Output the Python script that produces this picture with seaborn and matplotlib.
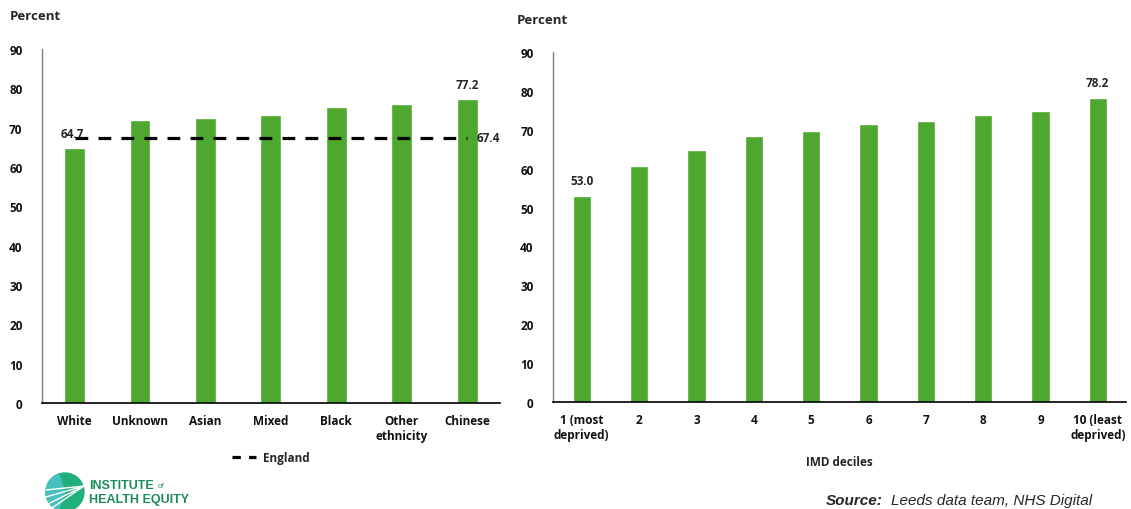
import pandas as pd
import matplotlib.pyplot as plt
import seaborn as sns
from matplotlib.patches import Circle, Wedge
from matplotlib.lines import Line2D

# data
ethnicity = ["White", "Unknown", "Asian", "Mixed", "Black", "Other\nethnicity", "Chinese"]
eth_values = [64.7, 72.0, 72.5, 73.1, 75.3, 75.9, 77.2]
england = 67.4

deciles = ["1 (most\ndeprived)", "2", "3", "4", "5", "6", "7", "8", "9", "10 (least\ndeprived)"]
imd_values = [53.0, 60.7, 64.9, 68.3, 69.6, 71.6, 72.2, 73.9, 74.9, 78.2]

GREEN = "#4ea72e"

sns.set_theme(style="white")
plt.rcParams["font.family"] = ["Open Sans", "DejaVu Sans"]
plt.rcParams["font.weight"] = "bold"

fig = plt.figure(figsize=(11.31, 5.10), dpi=100)
ax1 = fig.add_axes([0.037, 0.208, 0.405, 0.694])
ax2 = fig.add_axes([0.489, 0.210, 0.507, 0.686])

df1 = pd.DataFrame({"group": ethnicity, "value": eth_values})
df2 = pd.DataFrame({"group": deciles, "value": imd_values})

sns.barplot(data=df1, x="group", y="value", color=GREEN, width=0.32, ax=ax1, saturation=1)
sns.barplot(data=df2, x="group", y="value", color=GREEN, width=0.32, ax=ax2, saturation=1)

# England average line
ax1.plot([0, 6], [england, england], color="black", lw=2.3, ls=(0, (4, 3.2)))
ax1.text(6.15, england, f"{england:.1f}", ha="left", va="center", fontsize=8.5, fontweight="bold")
ax1.text(-0.22, eth_values[0] + 2.2, f"{eth_values[0]:.1f}", ha="left", va="bottom", fontsize=8.5, fontweight="bold")
ax1.text(6, eth_values[-1] + 2.2, f"{eth_values[-1]:.1f}", ha="center", va="bottom", fontsize=8.5, fontweight="bold")

ax2.text(0, imd_values[0] + 2.2, f"{imd_values[0]:.1f}", ha="center", va="bottom", fontsize=8.5, fontweight="bold")
ax2.text(9, imd_values[-1] + 2.2, f"{imd_values[-1]:.1f}", ha="center", va="bottom", fontsize=8.5, fontweight="bold")

for ax, n in [(ax1, 7), (ax2, 10)]:
    ax.set_ylim(0, 90)
    ax.set_xlim(-0.5, n - 0.5)
    ax.set_yticks(range(0, 91, 10))
    ax.set_xlabel("")
    ax.set_ylabel("")
    ax.tick_params(axis="both", length=0, labelsize=8.5, pad=8, labelcolor="#111111")
    for lab in ax.get_xticklabels() + ax.get_yticklabels():
        lab.set_fontweight("bold")
    sns.despine(ax=ax)
    ax.spines["left"].set_color("#808080")
    ax.spines["bottom"].set_color("black")
    ax.spines["left"].set_linewidth(1)
    ax.spines["bottom"].set_linewidth(1.2)

ax1.yaxis.set_tick_params(pad=14)
ax2.yaxis.set_tick_params(pad=14)

fig.text(0.009, 0.967, "Percent", fontsize=9.5, fontweight="bold", va="center")
fig.text(0.457, 0.96, "Percent", fontsize=9.5, fontweight="bold", va="center")

ax2.set_xlabel("IMD deciles", fontsize=8.5, fontweight="bold", labelpad=10)

handle = Line2D([], [], color="black", lw=2.3, ls=(0, (2.6, 2.6)))
ax1.legend([handle], ["England"], loc="upper center", bbox_to_anchor=(0.5, -0.105), frameon=False,
           prop={"weight": "bold", "size": 8.5}, handlelength=2.1, handletextpad=0.6)

# source
fig.text(0.73, 0.004, "Source:", fontsize=11, fontweight="bold", style="italic",
         family="Liberation Sans", va="bottom")
fig.text(0.788, 0.004, "Leeds data team, NHS Digital", fontsize=11, style="italic",
         family="Liberation Sans", fontweight="normal", va="bottom")

# logo
lax = fig.add_axes([45 / 1131, -3 / 510, 40 / 1131, 40 / 510])
lax.set_xlim(-1, 1)
lax.set_ylim(-1, 1)
lax.axis("off")
lax.add_patch(Circle((0, 0), 0.95, color="#22b07a"))
lax.add_patch(Wedge((0, 0), 0.95, 110, 250, color="#47c1bf"))
for dy in [0.2, 0.55, 0.95, 1.3]:
    lax.plot([0.95, -0.95], [0.3, 0.3 - dy], color="white", lw=1.0)
fig.text(89 / 1131, 1 - 486 / 510, "INSTITUTE", fontsize=9, color="#1e8c5a", fontweight="bold",
         family="Liberation Sans", va="center")
fig.text(158 / 1131, 1 - 487 / 510, "of", fontsize=5.5, color="#1e8c5a", style="italic",
         family="Liberation Sans", va="center", fontweight="normal")
fig.text(89 / 1131, 1 - 500 / 510, "HEALTH EQUITY", fontsize=9, color="#1e8c5a", fontweight="bold",
         family="Liberation Sans", va="center")

fig.savefig("out.png", dpi=100)
